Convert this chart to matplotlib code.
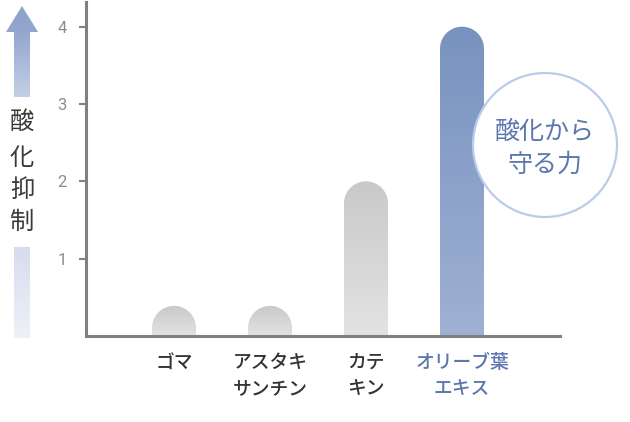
import numpy as np
import matplotlib
matplotlib.use("Agg")
import matplotlib.pyplot as plt
from matplotlib.path import Path
from matplotlib.patches import PathPatch, Polygon, Rectangle, Ellipse
from matplotlib.colors import LinearSegmentedColormap

plt.rcParams['font.family'] = ['Noto Sans CJK JP', 'DejaVu Sans']

categories = ["ゴマ", "アスタキ\nサンチン", "カテ\nキン", "オリーブ葉\nエキス"]
values = [0.39, 0.39, 2.0, 4.0]
yticks = [1, 2, 3, 4]
highlight = 3

W, H = 630, 422
fig = plt.figure(figsize=(W / 100, H / 100), dpi=100)
L, R, B, T = 86, 560, 336, 2
ax = fig.add_axes([L / W, 1 - B / H, (R - L) / W, (B - T) / H])
unit = (B - 26.7) / 4.0
spacing = 96
XL = ((L - 174) / spacing, (R - 174) / spacing)
YL = (0, (B - T) / unit)
ax.set_xlim(*XL)
ax.set_ylim(*YL)

for s in ['top', 'right']:
    ax.spines[s].set_visible(False)
for s in ['left', 'bottom']:
    ax.spines[s].set_color('#808080')
    ax.spines[s].set_linewidth(2.2)
ax.set_yticks(yticks)
ax.set_yticklabels([str(t) for t in yticks], family='Roboto',
                   fontsize=12, color='#8c8c8c')
ax.tick_params(axis='y', length=5, width=1.5, color='#808080', pad=9)
ax.set_xticks([])

bw = 44 / spacing
rx = bw / 2
ry = 22 / unit

grey_cmap = LinearSegmentedColormap.from_list('g', ['#c9c9c9', '#e3e3e3'])
blue_cmap = LinearSegmentedColormap.from_list('b', ['#7892bf', '#9fb1d3'])

for i, v in enumerate(values):
    x0, x1 = i - rx, i + rx
    top = v
    cy = top - ry
    theta = np.linspace(0, np.pi, 40)
    arc = [(i + rx * np.cos(t), cy + ry * np.sin(t)) for t in theta]
    verts = [(x1, 0), (x1, cy)] + arc + [(x0, 0), (x1, 0)]
    codes = [Path.MOVETO] + [Path.LINETO] * (len(verts) - 2) + [Path.CLOSEPOLY]
    patch = PathPatch(Path(verts, codes), facecolor='none', edgecolor='none')
    ax.add_patch(patch)
    grad = np.linspace(0, 1, 256).reshape(-1, 1)
    cmap = blue_cmap if i == highlight else grey_cmap
    im = ax.imshow(grad, cmap=cmap, extent=[x0, x1, 0, top], aspect='auto',
                   origin='upper', zorder=2)
    im.set_clip_path(patch)
ax.set_xlim(*XL)
ax.set_ylim(*YL)

# category labels
for i, c in enumerate(categories):
    xd = ax.transData.transform((i, 0))[0]
    col = '#5b77ad' if i == highlight else '#333333'
    fig.text(xd / W, 1 - 353 / H, c, ha='center', va='top', fontsize=13.5,
             fontweight='medium', color=col, linespacing=1.45)

# callout circle
cx, cy_, r = 545, 145, 72
ell = Ellipse((cx / W, 1 - cy_ / H), 2 * r / W, 2 * r / H, transform=fig.transFigure,
              facecolor='white', edgecolor='#b9cce9', linewidth=1.6, zorder=5)
fig.patches.append(ell)
fig.text(cx / W, 1 - 148 / H, "酸化から\n守る力", ha='center', va='center',
         fontsize=18, color='#5b77ad', linespacing=1.35, zorder=6)

# left arrow indicator
aax = fig.add_axes([0, 0, 1, 1], facecolor='none')
aax.set_xlim(0, W)
aax.set_ylim(H, 0)
aax.axis('off')
g = np.linspace(0, 1, 256).reshape(-1, 1)
head = Polygon([(22, 6), (38, 32), (6, 32)], closed=True, facecolor='none', edgecolor='none')
aax.add_patch(head)
im1 = aax.imshow(g, cmap=LinearSegmentedColormap.from_list('h', ['#8ea2cb', '#93a6cd']),
                 extent=[6, 38, 32, 6], aspect='auto', origin='upper')
im1.set_clip_path(head)
shaft = Rectangle((14, 31), 16, 66, facecolor='none', edgecolor='none')
aax.add_patch(shaft)
im2 = aax.imshow(g, cmap=LinearSegmentedColormap.from_list('a', ['#93a6cd', '#c3cfe6']),
                 extent=[14, 30, 97, 31], aspect='auto', origin='upper')
im2.set_clip_path(shaft)
low = Rectangle((14, 247), 16, 91, facecolor='none', edgecolor='none')
aax.add_patch(low)
im3 = aax.imshow(g, cmap=LinearSegmentedColormap.from_list('l', ['#d5ddee', '#eef1f8']),
                 extent=[14, 30, 338, 247], aspect='auto', origin='upper')
im3.set_clip_path(low)
for ch, yy in zip("酸化抑制", [122, 158, 190, 222]):
    aax.text(22, yy, ch, ha='center', va='center', fontsize=17.5, color='#3a3a3a')
aax.set_xlim(0, W)
aax.set_ylim(H, 0)

fig.savefig("out.png", dpi=100)
